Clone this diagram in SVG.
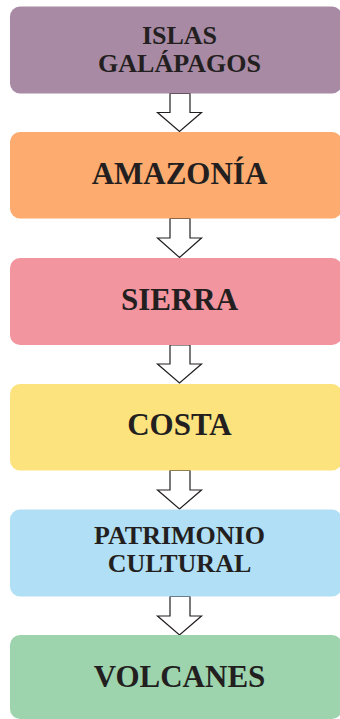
<svg xmlns="http://www.w3.org/2000/svg" width="340" height="719" viewBox="0 0 340 719">
<style>
.box{stroke:none}
.t{font-family:"Liberation Serif","Times New Roman",serif;font-weight:bold;fill:#231f20;text-anchor:middle}
.big{font-size:31px}
.small{font-size:26px}
.arr{fill:#fff;stroke:#231f20;stroke-width:1.2;stroke-linejoin:miter}
</style>
<rect width="340" height="719" fill="#fff"/>
<g id="connectors">
<path class="arr" d="M170,93.5 H190 V112.5 H201.5 L179.5,131.5 L157.5,112.5 H170 Z"/>
<path class="arr" d="M170,218.5 H190 V238 H201.5 L179.5,257.5 L157.5,238 H170 Z"/>
<path class="arr" d="M170,345 H190 V364 H201.5 L179.5,383 L157.5,364 H170 Z"/>
<path class="arr" d="M170,470.5 H190 V490 H201.5 L179.5,509 L157.5,490 H170 Z"/>
<path class="arr" d="M170,596.5 H190 V616 H201.5 L179.5,635 L157.5,616 H170 Z"/>
</g>
<g id="islas">
<rect class="box" x="10" y="6.5" width="332" height="87" rx="10" fill="#a98aa4"/>
<text class="t small" x="179.5" y="43.5">ISLAS</text>
<text class="t small" x="179.5" y="71.5">GALÁPAGOS</text>
</g>
<g id="amazonia">
<rect class="box" x="10" y="132" width="332" height="86.5" rx="10" fill="#fdab6e"/>
<text class="t big" x="179.5" y="183.5">AMAZONÍA</text>
</g>
<g id="sierra">
<rect class="box" x="10" y="258" width="332" height="87" rx="10" fill="#f2959f"/>
<text class="t big" x="179.5" y="309.5">SIERRA</text>
</g>
<g id="costa">
<rect class="box" x="10" y="384" width="332" height="86.5" rx="10" fill="#fde37e"/>
<text class="t big" x="179.5" y="435">COSTA</text>
</g>
<g id="patrimonio">
<rect class="box" x="10" y="509.5" width="332" height="87" rx="10" fill="#b1e0f6"/>
<text class="t small" x="179.5" y="543.5">PATRIMONIO</text>
<text class="t small" x="179.5" y="571.5">CULTURAL</text>
</g>
<g id="volcanes">
<rect class="box" x="10" y="635" width="332" height="84" rx="10" fill="#9dd4ae"/>
<text class="t big" x="179.5" y="686.5">VOLCANES</text>
</g>
</svg>
